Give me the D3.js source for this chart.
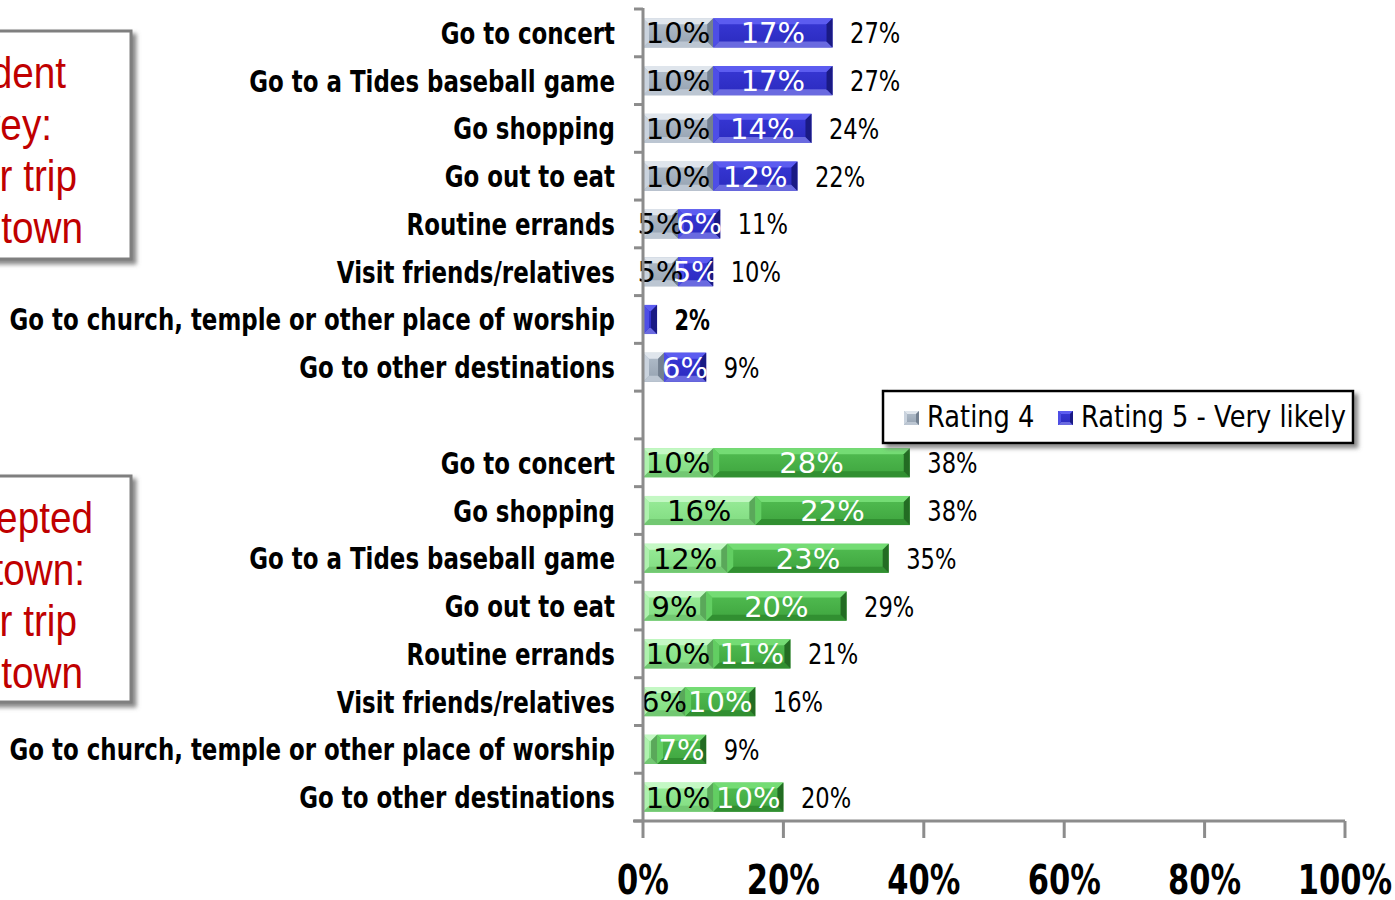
<!DOCTYPE html>
<html>
<head>
<meta charset="utf-8">
<script src="https://cdn.jsdelivr.net/npm/d3@7"></script>
<style>
  html, body { margin: 0; padding: 0; background: #ffffff; }
  svg { display: block; }
</style>
</head>
<body>
<svg id="chart" width="1395" height="900"></svg>
<script>
// Likelihood of trip purposes downtown, two respondent groups
const residentCategories = [
  "Go to concert", "Go to a Tides baseball game", "Go shopping", "Go out to eat",
  "Routine errands", "Visit friends/relatives",
  "Go to church, temple or other place of worship", "Go to other destinations"
];
const residentRating4 = [10, 10, 10, 10, 5, 5, 0, 3];
const residentRating5 = [17, 17, 14, 12, 6, 5, 2, 6];

const interceptCategories = [
  "Go to concert", "Go shopping", "Go to a Tides baseball game", "Go out to eat",
  "Routine errands", "Visit friends/relatives",
  "Go to church, temple or other place of worship", "Go to other destinations"
];
const interceptRating4 = [10, 16, 12, 9, 10, 6, 2, 10];
const interceptRating5 = [28, 22, 23, 20, 11, 10, 7, 10];

const seriesNames = ["Rating 4", "Rating 5 - Very likely"];
const xTicks = [0, 20, 40, 60, 80, 100];

const residentBox = ["Resident", "Survey:", "Likely for trip", "downtown"];
const interceptBox = ["Intercepted", "Downtown:", "Likely for trip", "downtown"];

// Rows: resident group, a blank spacer row, intercept group
const rows = [];
residentCategories.forEach((c, i) => rows.push({ id: "r" + i, label: c, group: "resident", r4: residentRating4[i], r5: residentRating5[i] }));
rows.push({ id: "gap", label: "", group: null, r4: 0, r5: 0 });
interceptCategories.forEach((c, i) => rows.push({ id: "i" + i, label: c, group: "intercept", r4: interceptRating4[i], r5: interceptRating5[i] }));

const svg = d3.select("#chart");

const x = d3.scaleLinear().domain([0, 100]).range([643, 1345]);
const y = d3.scaleBand().domain(rows.map(d => d.id)).range([9, 821]).paddingInner(0.39).paddingOuter(0.195);
const step = y.step();

// Bevelled palettes
const palettes = {
  resident: [
    { top: "#dfe5ec", mid1: "#b3bfcc", mid2: "#94a1b0", bottom: "#bcc6d2", left: "#cad3de", right: "#738090" },
    { top: "#5c5cf0", mid1: "#3838d6", mid2: "#2a2abe", bottom: "#6a6ae0", left: "#4e4ee6", right: "#1a1a84" }
  ],
  intercept: [
    { top: "#c4f8c4", mid1: "#9aec9a", mid2: "#80dc80", bottom: "#72c872", left: "#aef2ae", right: "#5aa85a" },
    { top: "#74dc74", mid1: "#52be52", mid2: "#3ea43e", bottom: "#318f31", left: "#62ce62", right: "#236c23" }
  ]
};

const defs = svg.append("defs");
const shadow = defs.append("filter").attr("id", "shadow").attr("x", "-10%").attr("y", "-10%").attr("width", "130%").attr("height", "130%");
shadow.append("feDropShadow").attr("dx", 4).attr("dy", 4).attr("stdDeviation", 2).attr("flood-color", "#6d6d6d").attr("flood-opacity", 0.8);

Object.entries(palettes).forEach(([g, list]) => {
  list.forEach((p, k) => {
    const lg = defs.append("linearGradient").attr("id", `mid-${g}-${k}`).attr("x1", 0).attr("y1", 0).attr("x2", 0).attr("y2", 1);
    lg.append("stop").attr("offset", "0%").attr("stop-color", p.mid1);
    lg.append("stop").attr("offset", "100%").attr("stop-color", p.mid2);
  });
});

function bevel(g, bx, by, w, h, p, gradId, depth) {
  if (w <= 0) return;
  const d = Math.min(depth || 6, w / 2, h / 2);
  const pts = a => a.map(q => q.join(",")).join(" ");
  g.append("rect").attr("x", bx).attr("y", by).attr("width", w).attr("height", h).attr("fill", `url(#${gradId})`);
  g.append("polygon").attr("points", pts([[bx, by], [bx + w, by], [bx + w - d, by + d], [bx + d, by + d]])).attr("fill", p.top);
  g.append("polygon").attr("points", pts([[bx, by + h], [bx + w, by + h], [bx + w - d, by + h - d], [bx + d, by + h - d]])).attr("fill", p.bottom);
  g.append("polygon").attr("points", pts([[bx, by], [bx + d, by + d], [bx + d, by + h - d], [bx, by + h]])).attr("fill", p.left);
  g.append("polygon").attr("points", pts([[bx + w, by], [bx + w - d, by + d], [bx + w - d, by + h - d], [bx + w, by + h]])).attr("fill", p.right);
}

// Condensed text helper: horizontal scaling of a font
function sText(g, tx, ty, str, opts) {
  return g.append("text")
    .attr("transform", `translate(${tx},${ty}) scale(${opts.sx},1)`)
    .attr("text-anchor", opts.anchor || "start")
    .attr("font-family", opts.family || "DejaVu Sans")
    .attr("font-weight", opts.weight || "normal")
    .attr("font-size", opts.size)
    .attr("fill", opts.fill || "#000")
    .text(str);
}

// Left-hand text boxes
function textBox(top, bottom, lines, ends) {
  const g = svg.append("g");
  g.append("rect").attr("x", -20).attr("y", top).attr("width", 151).attr("height", bottom - top)
    .attr("fill", "#fff").attr("stroke", "#7f7f7f").attr("stroke-width", 3).attr("filter", "url(#shadow)");
  lines.forEach((l, i) => {
    sText(g, ends[i], top + 57 + i * 51.5, l, { sx: 0.88, size: 44, family: "Liberation Sans", fill: "#c00000", anchor: "end" });
  });
}
textBox(31, 259, residentBox, [66, 52, 77, 83]);
textBox(476, 702, interceptBox, [93, 85, 77, 83]);

// Bars
const barsG = svg.append("g");
rows.filter(d => d.group).forEach(d => {
  const pal = palettes[d.group];
  const by = y(d.id), h = y.bandwidth();
  const segs = [
    { v0: 0, v1: d.r4, k: 0 },
    { v0: d.r4, v1: d.r4 + d.r5, k: 1 }
  ];
  segs.forEach(s => {
    const w = x(s.v1) - x(s.v0);
    bevel(barsG, x(s.v0), by, w, h, pal[s.k], `mid-${d.group}-${s.k}`);
  });
  segs.forEach(s => {
    const v = s.v1 - s.v0;
    if (v >= 5) {
      sText(barsG, (x(s.v0) + x(s.v1)) / 2, by + h / 2 + 10.5, v + "%",
        { sx: 1, size: 29, anchor: "middle", fill: s.k === 0 ? "#000" : "#fff" });
    }
  });
  const total = d.r4 + d.r5;
  sText(barsG, x(total) + 17.5, by + h / 2 + 10.5, total + "%",
    { sx: total < 5 ? 0.72 : 0.78, size: 29, weight: total < 5 ? "bold" : "normal" });
});

// Category axis
const axisG = svg.append("g");
axisG.append("line").attr("x1", x(0)).attr("x2", x(0)).attr("y1", 8).attr("y2", 822)
  .attr("stroke", "#8c8c8c").attr("stroke-width", 3);
const bounds = rows.map(d => y(d.id) - (step - y.bandwidth()) / 2).concat([821]);
bounds.forEach(b => {
  axisG.append("line").attr("x1", x(0) - 9).attr("x2", x(0)).attr("y1", b).attr("y2", b)
    .attr("stroke", "#8c8c8c").attr("stroke-width", 3);
});
rows.forEach(d => {
  if (!d.label) return;
  sText(axisG, 615, y(d.id) + y.bandwidth() / 2 + 11, d.label, { sx: 0.74, size: 31, weight: "bold", anchor: "end" });
});

// Value axis
axisG.append("line").attr("x1", x(0) - 10).attr("x2", x(100)).attr("y1", 821).attr("y2", 821)
  .attr("stroke", "#8c8c8c").attr("stroke-width", 3);
xTicks.forEach(t => {
  axisG.append("line").attr("x1", x(t)).attr("x2", x(t)).attr("y1", 821).attr("y2", 838)
    .attr("stroke", "#8c8c8c").attr("stroke-width", 3);
  sText(axisG, x(t), 894, t + "%", { sx: 0.745, size: 41, weight: "bold", anchor: "middle" });
});

// Legend
const lg = svg.append("g");
lg.append("rect").attr("x", 883).attr("y", 391).attr("width", 470).attr("height", 52)
  .attr("fill", "#fff").attr("stroke", "#000").attr("stroke-width", 2.5).attr("filter", "url(#shadow)");
const legendItems = [
  { name: seriesNames[0], mx: 904, tx: 927, pal: palettes.resident[0], grad: "mid-resident-0" },
  { name: seriesNames[1], mx: 1058, tx: 1081, pal: palettes.resident[1], grad: "mid-resident-1" }
];
legendItems.forEach(it => {
  bevel(lg, it.mx, 411, 15, 14, it.pal, it.grad, 3);
  sText(lg, it.tx, 427, it.name, { sx: 0.83, size: 31 });
});
</script>
</body>
</html>
